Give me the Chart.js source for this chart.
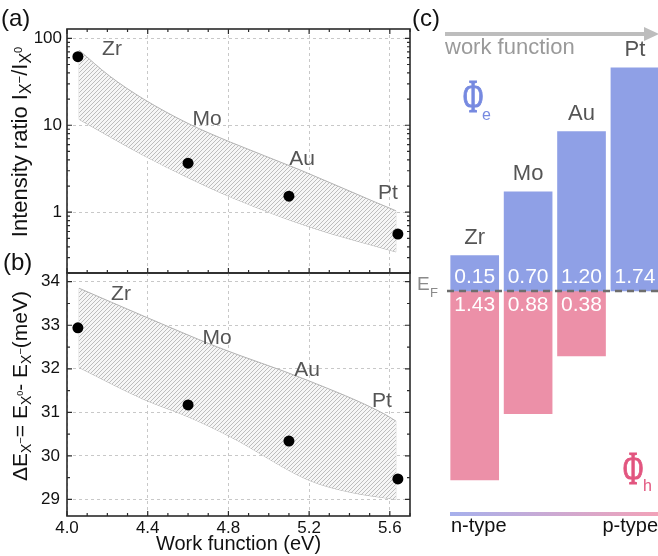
<!DOCTYPE html>
<html>
<head>
<meta charset="utf-8">
<script src="https://cdn.jsdelivr.net/npm/chart.js@4.4.1/dist/chart.umd.min.js"></script>
<style>
  body { margin: 0; background: #fff; }
  #wrap { position: relative; width: 658px; height: 556px; }
  canvas { position: absolute; left: 0; top: 0; }
</style>
</head>
<body>
<div id="wrap">
  <canvas id="ca" width="658" height="556"></canvas>
  <canvas id="cb" width="658" height="556"></canvas>
  <canvas id="cc" width="658" height="556"></canvas>
</div>
<script>
// ---- data ----
const metals = ["Zr", "Mo", "Au", "Pt"];
const workFunction = [4.054, 4.60, 5.10, 5.64];
const intensityRatio = [61.5, 3.66, 1.53, 0.56];
const deltaE = [32.94, 31.17, 30.34, 29.47];

// shaded band, panel (a)
const bandAUpperX = [4.06, 4.21, 4.38, 4.60, 4.81, 5.15, 5.53, 5.63];
const bandAUpperY = [73, 37, 20, 10.5, 6.4, 3.1, 1.3, 1.04];
const bandALowerX = [4.06, 4.38, 4.60, 4.81, 5.20, 5.63];
const bandALowerY = [11.7, 4.5, 2.5, 1.5, 0.68, 0.35];

// shaded band, panel (b)
const bandBUpperX = [4.06, 4.38, 4.74, 5.19, 5.57, 5.63];
const bandBUpperY = [33.85, 33.21, 32.51, 31.74, 30.97, 30.80];
const bandBLowerX = [4.06, 4.38, 4.60, 4.81, 5.20, 5.40, 5.63];
const bandBLowerY = [32.03, 31.30, 30.90, 30.44, 29.44, 29.17, 29.0];

const xTicks = [4.0, 4.4, 4.8, 5.2, 5.6];
const yTicksA = [1, 10, 100];
const yTicksB = [29, 30, 31, 32, 33, 34];

// panel (c): bar extents in eV around E_F and the printed barrier values
const barTop = [0.30, 0.84, 1.35, 1.89];
const barBottom = [-1.60, -1.04, -0.55, null];
const phiE = ["0.15", "0.70", "1.20", "1.74"];
const phiH = ["1.43", "0.88", "0.38"];

const FONT = '"Liberation Sans", Arial, sans-serif';

// hatch pattern for the bands
const hatch = (function () {
  const c = document.createElement("canvas");
  c.width = 4; c.height = 4;
  const g = c.getContext("2d");
  g.fillStyle = "#f6f6f6";
  g.fillRect(0, 0, 4, 4);
  g.strokeStyle = "#bdbdbd";
  g.lineWidth = 1;
  g.beginPath();
  g.moveTo(-1, 5); g.lineTo(5, -1);
  g.moveTo(-1, 1); g.lineTo(1, -1);
  g.moveTo(3, 5); g.lineTo(5, 3);
  g.stroke();
  return document.getElementById("ca").getContext("2d").createPattern(c, "repeat");
})();

function bandSets(ux, uy, lx, ly) {
  const up = ux.map((x, i) => ({ x: x, y: uy[i] }));
  const lo = lx.map((x, i) => ({ x: x, y: ly[i] }));
  const common = { pointRadius: 0, borderWidth: 1, cubicInterpolationMode: "monotone" };
  return [
    Object.assign({ data: up, fill: "+1", backgroundColor: hatch, borderColor: "#b2b2b2" }, common),
    Object.assign({ data: lo, fill: false, borderColor: "#b2b2b2" }, common),
    Object.assign({ data: [up[0], lo[0]], fill: false, borderColor: "#d6d6d6" }, common),
    Object.assign({ data: [up[up.length - 1], lo[lo.length - 1]], fill: false, borderColor: "#d6d6d6" }, common)
  ];
}

function pointSet(ys) {
  return {
    data: workFunction.map((x, i) => ({ x: x, y: ys[i] })),
    showLine: false, pointRadius: 5.5, pointBackgroundColor: "#000", pointBorderWidth: 0
  };
}

// rotated text with sub/superscripts: parts = [text, size, dy]
function richText(ctx, cx, cy, parts) {
  ctx.save();
  ctx.translate(cx, cy);
  ctx.rotate(-Math.PI / 2);
  let w = 0;
  parts.forEach(p => { ctx.font = p[1] + "px " + FONT; w += ctx.measureText(p[0]).width; });
  let x = -w / 2;
  ctx.fillStyle = "#111";
  ctx.textBaseline = "alphabetic";
  ctx.textAlign = "left";
  parts.forEach(p => {
    ctx.font = p[1] + "px " + FONT;
    ctx.fillText(p[0], x, 7 + p[2]);
    x += ctx.measureText(p[0]).width;
  });
  ctx.restore();
}

function text(ctx, s, x, y, size, color, align, family) {
  ctx.font = size + "px " + (family || FONT);
  ctx.fillStyle = color;
  ctx.textAlign = align || "center";
  ctx.textBaseline = "middle";
  ctx.fillText(s, x, y);
}

// frame + inward ticks
function framePlugin(cfg) {
  return {
    id: "frame",
    afterDraw(chart) {
      const ctx = chart.ctx, a = chart.chartArea;
      const xs = chart.scales.x, ys = chart.scales.y;
      ctx.save();
      ctx.strokeStyle = "#2a2a2a";
      ctx.lineWidth = 1.2;
      ctx.beginPath();
      for (let v = 4.0; v <= 5.701; v += 0.1) {
        const px = xs.getPixelForValue(v);
        const major = Math.abs((v - 4.0) / 0.4 - Math.round((v - 4.0) / 0.4)) < 0.01;
        const len = major ? 5 : 3;
        ctx.moveTo(px, a.bottom); ctx.lineTo(px, a.bottom - len);
        if (cfg.topTicks) { ctx.moveTo(px, a.top); ctx.lineTo(px, a.top + len); }
      }
      cfg.yMinor.forEach(v => {
        const py = ys.getPixelForValue(v);
        if (py < a.top - 0.5 || py > a.bottom + 0.5) return;
        ctx.moveTo(a.left, py); ctx.lineTo(a.left + 3, py);
        ctx.moveTo(a.right, py); ctx.lineTo(a.right - 3, py);
      });
      cfg.yMajor.forEach(v => {
        const py = ys.getPixelForValue(v);
        ctx.moveTo(a.left, py); ctx.lineTo(a.left + 5, py);
        ctx.moveTo(a.right, py); ctx.lineTo(a.right - 5, py);
      });
      ctx.stroke();
      ctx.lineWidth = 1.6;
      ctx.strokeRect(a.left, a.top, a.right - a.left, a.bottom - a.top);
      cfg.extra(ctx, chart);
      ctx.restore();
    }
  };
}

function xScale(showLabels) {
  return {
    type: "linear", min: 4.0, max: 5.7,
    afterBuildTicks: s => { s.ticks = xTicks.map(v => ({ value: v })); },
    afterFit: s => { s.height = showLabels ? 40 : 0; },
    grid: { color: "#c8c8c8", drawTicks: false, lineWidth: 1 },
    border: { display: false, dash: [3, 3] },
    ticks: { display: showLabels, padding: 2, color: "#111", font: { size: 17, family: FONT }, callback: v => v.toFixed(1), maxRotation: 0 },
    title: { display: showLabels, text: "Work function (eV)", color: "#111", font: { size: 20, family: FONT }, padding: { top: 0, bottom: 0 } }
  };
}

const baseOpts = {
  responsive: false, animation: false, devicePixelRatio: 1,
  plugins: { legend: { display: false }, tooltip: { enabled: false } }
};

// ---- panel (a) ----
const minorA = [];
[0.1, 1, 10].forEach(d => { for (let k = 2; k <= 9; k++) minorA.push(k * d); });

new Chart(document.getElementById("ca"), {
  type: "line",
  data: { datasets: [pointSet(intensityRatio)].concat(bandSets(bandAUpperX, bandAUpperY, bandALowerX, bandALowerY)) },
  options: Object.assign({}, baseOpts, {
    layout: { padding: { left: 0, top: 29, right: 248, bottom: 283 } },
    scales: {
      x: xScale(false),
      y: {
        type: "logarithmic", min: 0.2, max: 128,
        afterBuildTicks: s => { s.ticks = yTicksA.map(v => ({ value: v })); },
        afterFit: s => { s.width = 67; },
        grid: { color: "#c8c8c8", drawTicks: false },
        border: { display: false, dash: [3, 3] },
        ticks: { padding: 5, color: "#111", font: { size: 17, family: FONT }, callback: v => String(v) }
      }
    }
  }),
  plugins: [framePlugin({
    topTicks: true, yMajor: yTicksA, yMinor: minorA,
    extra: (ctx) => {
      text(ctx, "(a)", 1, 19, 24, "#111", "left");
      text(ctx, "(c)", 412, 19, 24, "#111", "left");
      const pos = [[112, 49], [207, 119], [302, 159], [388, 193]];
      metals.forEach((m, i) => text(ctx, m, pos[i][0], pos[i][1], 21, "#555"));
      richText(ctx, 20, 142, [["Intensity ratio I", 22, 0], ["X", 16, 4], ["\u2212", 13, -3], ["/I", 22, 0], ["X", 16, 4], ["0", 11, -5]]);
    }
  })]
});

// ---- panel (b) ----
const minorB = [];
for (let v = 28.5; v <= 34.5; v += 0.5) minorB.push(v);

new Chart(document.getElementById("cb"), {
  type: "line",
  data: { datasets: [pointSet(deltaE)].concat(bandSets(bandBUpperX, bandBUpperY, bandBLowerX, bandBLowerY)) },
  options: Object.assign({}, baseOpts, {
    layout: { padding: { left: 0, top: 273, right: 248, bottom: 0 } },
    scales: {
      x: xScale(true),
      y: {
        type: "linear", min: 28.62, max: 34.2,
        afterBuildTicks: s => { s.ticks = yTicksB.map(v => ({ value: v })); },
        afterFit: s => { s.width = 67; },
        grid: { color: "#c8c8c8", drawTicks: false },
        border: { display: false, dash: [3, 3] },
        ticks: { padding: 7, color: "#111", font: { size: 17, family: FONT } }
      }
    }
  }),
  plugins: [framePlugin({
    topTicks: false, yMajor: yTicksB, yMinor: minorB,
    extra: (ctx) => {
      text(ctx, "(b)", 3, 263, 24, "#111", "left");
      const pos = [[121, 294], [217, 338], [307, 370], [382, 401]];
      metals.forEach((m, i) => text(ctx, m, pos[i][0], pos[i][1], 21, "#555"));
      richText(ctx, 20, 386, [["\u0394E", 21, 0], ["X", 14, 4], ["\u2212", 11, -3], ["= E", 21, 0], ["X", 14, 4], ["0", 9, -4],
        ["- E", 21, 0], ["X", 14, 4], ["\u2212", 11, -3], ["(meV)", 21, 0]]);
    }
  })]
});

// ---- panel (c) ----
const BLUE = "#8fa0e6", PINK = "#ec90a8";

new Chart(document.getElementById("cc"), {
  type: "bar",
  data: {
    datasets: [
      { data: barTop.map((t, i) => ({ x: i, y: [0, t] })), backgroundColor: BLUE, barThickness: 48, grouped: false, borderWidth: 0 },
      { data: barBottom.map((b, i) => ({ x: i, y: b === null ? null : [b, 0] })), backgroundColor: PINK, barThickness: 48, grouped: false, borderWidth: 0 }
    ]
  },
  options: Object.assign({}, baseOpts, {
    layout: { padding: { left: 448, top: 30, right: 0, bottom: 36 } },
    scales: {
      x: { type: "linear", min: -0.5, max: 3.432, display: false, offset: false, grid: { offset: false } },
      y: { min: -1.94, max: 2.21, display: false }
    }
  }),
  plugins: [{
    id: "bandLabels",
    afterDraw(chart) {
      const ctx = chart.ctx, xs = chart.scales.x, ys = chart.scales.y;
      const y0 = ys.getPixelForValue(0);
      ctx.save();
      // work function arrow
      ctx.strokeStyle = "#bdbdbd"; ctx.fillStyle = "#bdbdbd"; ctx.lineWidth = 4;
      ctx.beginPath(); ctx.moveTo(445, 34); ctx.lineTo(647, 34); ctx.stroke();
      ctx.beginPath(); ctx.moveTo(644, 27); ctx.lineTo(659, 34); ctx.lineTo(644, 41); ctx.closePath(); ctx.fill();
      text(ctx, "work function", 445, 48, 22, "#9a9a9a", "left");

      metals.forEach((m, i) => {
        const px = xs.getPixelForValue(i);
        text(ctx, m, px, ys.getPixelForValue(barTop[i]) - 18, 22, "#555");
        text(ctx, phiE[i], px, y0 - 14, 21, "#fff");
        if (i < phiH.length) text(ctx, phiH[i], px, y0 + 14, 21, "#fff");
      });

      // Fermi level
      ctx.strokeStyle = "#6e6e6e"; ctx.lineWidth = 2.5; ctx.setLineDash([7, 5]);
      ctx.beginPath(); ctx.moveTo(447, y0); ctx.lineTo(658, y0); ctx.stroke();
      ctx.setLineDash([]);
      text(ctx, "E", 417, y0 - 6, 19, "#8a8a8a", "left");
      text(ctx, "F", 430, y0 + 2, 13, "#8a8a8a", "left");

      // barrier symbols
      [[473, 98, "#7689e0", "e", 482, 116], [633, 470, "#e2557f", "h", 643, 487]].forEach(s => {
        ctx.save();
        ctx.translate(s[0], s[1]);
        ctx.scale(0.6, 1);
        text(ctx, "\u03A6", 0, 2, 46, s[2], "center", 'bold "Liberation Serif", serif'.replace("bold ", ""));
        ctx.lineWidth = 1.2;
        ctx.strokeStyle = s[2];
        ctx.strokeText("\u03A6", 0, 2);
        ctx.restore();
        text(ctx, s[3], s[4], s[5], 16, s[2], "left");
      });

      // n-type / p-type gradient
      const g = ctx.createLinearGradient(450, 0, 658, 0);
      g.addColorStop(0, "#a6b0ec");
      g.addColorStop(1, "#f2a2b8");
      ctx.fillStyle = g;
      ctx.fillRect(450, 512, 208, 4);
      text(ctx, "n-type", 451, 526, 20, "#111", "left");
      text(ctx, "p-type", 658, 526, 20, "#111", "right");
      ctx.restore();
    }
  }]
});
</script>
</body>
</html>
